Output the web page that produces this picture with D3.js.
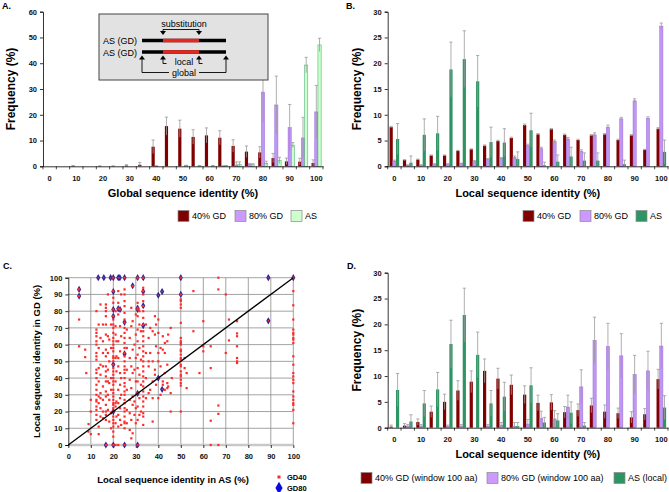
<!DOCTYPE html>
<html><head><meta charset="utf-8">
<script src="https://cdn.jsdelivr.net/npm/d3@7"></script>
<style>
body{margin:0;background:#fff}
svg{display:block}
text{font-family:Arial,"Liberation Sans",sans-serif}
</style></head>
<body>
<svg id="c" width="669" height="492"></svg>
<script>
// ---------- DATA ----------
const categories = ["0","5","10","15","20","25","30","35","40","45","50","55","60","65","70","75","80","85","90","95","100"];
const xTickLabels = ["0","10","20","30","40","50","60","70","80","90","100"];
const yTicksA = [0,10,20,30,40,50,60];
const yTicksBD = [0,5,10,15,20,25,30];
const cTicks = [0,10,20,30,40,50,60,70,80,90,100];

// Panel A (global identity)
const gd40A    = [0,0,0.2,0,0.1,0.1,0.3,0.6,7.6,15.6,14.6,11.4,12.0,11.1,7.9,5.7,5.4,3.2,1.9,1.8,1.3];
const gd40AErr = [0,0,0.1,0,0.1,0.1,0.3,0.9,2.6,3.5,3.3,2.8,2.9,2.7,2.4,2.2,2.2,1.8,1.3,1.3,1.2];
const gd80A    = [0,0,0,0,0,0,0,0,0.1,0,0,0,0,0.1,0.5,0.7,28.8,23.8,15.0,11.0,21.1];
const gd80AErr = [0,0,0,0,0,0,0,0,0.1,0,0,0,0,0.1,1.2,0.4,11.8,11.2,9.0,8.0,10.3];
const asA      = [0,0,0,0,0,0,0,0,0,0,0.3,0.2,0.2,0.2,0.8,0.6,1.2,2.3,8.2,39.3,47.1];
const asAErr   = [0,0,0,0,0,0,0,0,0,0,0.1,0.1,0.1,0.1,0.9,0.4,0.8,1.2,1.0,3.0,2.6];

// Panel B (local identity)
const gd40B    = [7.6,1.2,1.3,2.1,2.1,3.0,3.3,4.0,4.9,5.5,8.0,6.2,7.2,6.1,5.1,6.0,6.2,5.1,6.0,3.2,7.3];
const gd40BErr = [0.15,0.1,0.1,0.1,0.1,0.1,0.1,0.15,0.15,0.15,0.2,0.15,0.15,0.15,0.15,0.15,0.15,0.15,0.15,0.1,0.2];
const gd80B    = [1.0,0.2,0.2,0.4,0.4,0.5,0.9,1.3,1.5,1.7,4.0,3.4,4.8,5.3,2.9,6.1,7.6,9.2,12.7,9.3,27.2];
const gd80BErr = [0.2,0.1,0.1,0.1,0.1,0.1,0.2,0.2,0.2,0.3,0.3,0.3,0.3,0.3,0.3,0.4,0.4,0.3,0.4,0.3,0.6];
const asB      = [5.3,0.7,6.1,6.4,18.8,20.8,16.5,4.7,4.6,1.4,7.0,0.2,0.9,1.9,1.1,1.1,0,0.4,0,0,2.8];
const asBErr   = [3.0,1.3,3.1,3.3,5.3,5.5,5.0,2.9,2.7,1.4,3.3,0.6,1.3,1.8,1.5,1.5,0,0.8,0,0,2.3];

// Panel D (local identity, window 100 aa)
const gd40D    = [0.2,0.4,1.1,3.1,5.0,7.2,8.9,11.0,9.5,8.3,6.4,4.8,4.9,3.0,3.4,4.3,3.1,2.8,2.0,2.6,9.4];
const gd40DErr = [0.3,0.4,0.6,1.1,1.5,1.9,2.1,2.3,2.0,1.9,1.7,1.5,1.5,1.1,1.2,1.4,1.3,1.0,1.1,1.1,1.9];
const gd80D    = [0,0.3,0.3,0,0.2,0.3,0,0.3,0.5,0.3,0.7,1.8,1.7,4.0,7.9,16.9,15.7,13.9,10.3,11.0,15.8];
const gd80DErr = [0,0.3,0.3,0,0.3,0.3,0,0.3,0.5,0.7,0.9,1.4,1.6,2.3,3.3,4.5,4.5,4.3,3.7,3.8,4.4];
const asD      = [7.3,1.2,4.7,7.4,16.2,21.8,14.1,4.7,6.0,0.3,8.2,1.0,1.4,2.9,0.4,0,0,0,0,0,3.9];
const asDErr   = [3.2,1.3,2.5,3.3,4.6,5.2,4.4,2.5,2.8,0.7,3.4,1.0,1.3,2.1,0.6,0,0,0,0,0,2.3];

// Panel C scatter: GD40 points, grouped by AS identity (x) -> list of GD identities (y)
const gd40Columns = [
  [4.8,[75,59,93,89]],
  [7.5,[57,52.5]],
  [8,[43]],
  [9,[12.5,8]],
  [10,[27,20,6.5]],
  [12.5,[80,69,67,65,62,60,55,53,51,45,43,40,36,33,30,27,26,23,21,18,15]],
  [13.5,[72,58,46,38,29,25,11,6.5]],
  [14.3,[84,64,48,42,31,28,22,17]],
  [15.4,[72,62,55,47,35,27,20,16]],
  [16.7,[84,82,80,77,72,66,57,53,47,44,41,38,32,29,24,20,18,15,0]],
  [17.6,[90,65,55,45,38,30,21]],
  [18.2,[63,50,37,27,14]],
  [19,[72,58,40,33,19,10]],
  [20,[100,92,88,85,81,77,75,72,70,67,64,62,60,58,56,53,52,50,48,46,44,42,40,38,36,33,31,29,27,25,24,22,20,17,15,13,11,8,5,0]],
  [21,[80,71,66,52,38,25,23,13,0]],
  [21.4,[62,53,44,26,17]],
  [22.2,[92,85,81.5,78,62,52,47,33,25,18,11,0]],
  [23,[81,71,56,43,36,28,22,15]],
  [23.5,[90,65,40,30,12]],
  [25,[100,93,90,86,83,79,75,73,70,67,64,61,58,55,53,50,47,45,43,40,37,35,32,30,27,25,22,20,17,14,13,10,0]],
  [26,[69,58,45,33,21,13]],
  [27.3,[64,52,39,27,19,9]],
  [28,[82,71,47,34,15,4]],
  [28.6,[95,74,57,43,29,24,7]],
  [29.4,[60,45,26,18]],
  [30,[78,66,52,38,22,13]],
  [30.8,[100,85,82,81,77,69,62,54,46,38,31,23,15,0]],
  [31.6,[80,72,58,42,28,18]],
  [32.3,[68,51,36,20]],
  [33.3,[100,94,92,90,86,83,80,76,72,68,65,62,59,56,53,50,47,44,41,38,35,32,29,26,23,19,17,12]],
  [34.5,[72,55,40,28]],
  [35.7,[64,50,47,31]],
  [36.4,[70,55,33]],
  [37.5,[68,50,38,28,14]],
  [38.5,[77,66,45,42]],
  [39,[72,59,36]],
  [40,[75,67,55,50,40,28]],
  [41,[58,47,30]],
  [42,[65,57,38,36]],
  [42.9,[61,55,43,33]],
  [44,[62,48,37,34]],
  [44.4,[66,35]],
  [45.5,[70,31,20]],
  [46,[40]],
  [50,[100,90,87,86,84,82,73,64,62,61,60,57,56,54,52,51,48,47,44,42,41,39,37,35.5,20]],
  [51.7,[52,46]],
  [52.6,[43,34]],
  [55.6,[92,68]],
  [58.3,[43]],
  [60,[74,59,56]],
  [63.3,[59,46,14.5,0]],
  [66.7,[100,93,23.6,18.6,0]],
  [70,[90,55]],
  [71.4,[75,62.5]],
  [75,[74,66.7,65,59,52,50,49]],
  [100,[100,92,83.5,75,69,67,66,64,63,61,53,48,43,41,39,37,32,29,27,25,24,21,13]]
];
// Panel C scatter: GD80 points [AS identity, GD identity]
const gd80Points = [
  [4.8,93],[4.8,89],[13.3,100],[15.8,100],[18.8,100],[20,100],[22.2,100],[22.9,100],[25,100],
  [30.8,100],[33.3,100],[50,100],[88.9,100],[100,100],[28.6,95.2],[20,91.7],[33.3,91.7],
  [40,89.5],[41.7,91.7],[50,90],[20,81],[22.2,81.5],[23,81],[30.8,81.8],[30.8,81],[33.3,83.3],
  [20,76.9],[25,73.3],[33.3,71.4],[88.9,74.2],[25,54.5],[20,48.1],[40,40],[41.7,33.3],
  [30.8,30.8],[20,20],[16.7,0],[20,0],[25,0],[30.8,0]
];

// ---------- STYLE ----------
const C_RED = "#800000", C_PURPLE = "#c096f5", C_GREEN = "#2f9463", C_LGREEN = "#ccffcc";
const svg = d3.select("#c");

function barPanel(cfg){
  const g = svg.append("g");
  const x = d3.scaleBand().domain(categories).range([cfg.x0, cfg.x1]);
  const inner = d3.scaleBand().domain([0,1,2]).range([x.bandwidth()*0.14, x.bandwidth()*0.86]);
  const y = d3.scaleLinear().domain([0, cfg.ymax]).range([cfg.yb, cfg.yt]);

  cfg.series.forEach((s, si) => {
    const rows = categories.map((c, i) => ({c, v: s.vals[i], e: s.errs[i]}));
    g.append("g").selectAll("rect").data(rows.filter(d => d.v > 0)).join("rect")
      .attr("x", d => x(d.c) + inner(si))
      .attr("width", inner.bandwidth())
      .attr("y", d => y(d.v))
      .attr("height", d => y(0) - y(d.v))
      .attr("fill", s.fill)
      .attr("stroke", s.stroke || "none")
      .attr("stroke-width", 0.5);
    const eg = g.append("g").attr("stroke", "#9a9a9a").attr("stroke-width", 0.8);
    rows.filter(d => d.e > 0).forEach(d => {
      const cx = x(d.c) + inner(si) + inner.bandwidth()/2;
      eg.append("line").attr("x1", cx).attr("x2", cx)
        .attr("y1", y(Math.max(0, d.v - d.e))).attr("y2", y(d.v + d.e));
      eg.append("line").attr("x1", cx - 1.6).attr("x2", cx + 1.6)
        .attr("y1", y(d.v + d.e)).attr("y2", y(d.v + d.e));
    });
  });

  // y axis
  const ya = g.append("g").attr("transform", `translate(${cfg.x0},0)`)
    .call(d3.axisLeft(y).tickValues(cfg.yticks).tickSize(3).tickPadding(3));
  ya.selectAll("text").attr("font-size", 7.5).attr("font-weight", "bold").attr("fill", "#111");
  ya.selectAll("line,path").attr("stroke", "#000").attr("stroke-width", 0.8);

  // x axis (Excel style: ticks between categories)
  const xa = g.append("g").attr("transform", `translate(0,${cfg.yb})`)
    .call(d3.axisBottom(x).tickValues(xTickLabels).tickSize(0).tickPadding(9));
  xa.selectAll("path").attr("stroke", "#000").attr("stroke-width", 0.8);
  xa.selectAll("text").attr("font-size", 7.5).attr("font-weight", "bold").attr("fill", "#111");
  const bounds = categories.map(c => x(c)).concat([cfg.x1]);
  xa.selectAll("line.tk").data(bounds).join("line").attr("class","tk")
    .attr("x1", d => d).attr("x2", d => d).attr("y1", 0).attr("y2", 3)
    .attr("stroke", "#000").attr("stroke-width", 0.7);

  // titles
  svg.append("text").attr("x", cfg.panelX).attr("y", cfg.panelY).text(cfg.panel)
    .attr("font-size", 9).attr("font-weight", "bold");
  svg.append("text").attr("transform", `translate(${cfg.ytX},${(cfg.yb+cfg.yt)/2}) rotate(-90)`)
    .attr("text-anchor", "middle").attr("font-size", 12).attr("font-weight", "bold").text("Frequency (%)");
  svg.append("text").attr("x", (cfg.x0 + cfg.x1)/2).attr("y", cfg.xtY)
    .attr("text-anchor", "middle").attr("font-size", 11).attr("font-weight", "bold").text(cfg.xtitle);

  // legend
  cfg.legend.forEach(l => {
    svg.append("rect").attr("x", l.x).attr("y", cfg.legY - 5.5).attr("width", 11).attr("height", 11)
      .attr("fill", l.fill).attr("stroke", "#8a8a8a").attr("stroke-width", 0.7);
    svg.append("text").attr("x", l.x + 14).attr("y", cfg.legY + 3.3).attr("font-size", 9).text(l.label);
  });
  return {x, y};
}

// Panel A
barPanel({
  x0: 43, x1: 323, yb: 166.3, yt: 11.7, ymax: 60, yticks: yTicksA,
  series: [
    {vals: gd40A, errs: gd40AErr, fill: C_RED},
    {vals: gd80A, errs: gd80AErr, fill: C_PURPLE, stroke: "#9a6ad8"},
    {vals: asA, errs: asAErr, fill: C_LGREEN, stroke: "#3aa56a"}
  ],
  panel: "A.", panelX: 2, panelY: 9, ytX: 15, xtY: 197, xtitle: "Global sequence identity (%)",
  legY: 216, legend: [
    {x: 178, fill: C_RED, label: "40% GD"},
    {x: 235, fill: "#cc99ff", label: "80% GD"},
    {x: 291, fill: C_LGREEN, label: "AS"}
  ]
});

// Panel B
barPanel({
  x0: 387.7, x1: 668, yb: 166.3, yt: 11.7, ymax: 30, yticks: yTicksBD,
  series: [
    {vals: gd40B, errs: gd40BErr, fill: C_RED},
    {vals: gd80B, errs: gd80BErr, fill: C_PURPLE, stroke: "#9a6ad8"},
    {vals: asB, errs: asBErr, fill: C_GREEN}
  ],
  panel: "B.", panelX: 346, panelY: 9, ytX: 361, xtY: 197, xtitle: "Local sequence identity (%)",
  legY: 216, legend: [
    {x: 523, fill: C_RED, label: "40% GD"},
    {x: 580, fill: "#cc99ff", label: "80% GD"},
    {x: 636, fill: C_GREEN, label: "AS"}
  ]
});

// Panel D
barPanel({
  x0: 387.7, x1: 668, yb: 427.7, yt: 272.7, ymax: 30, yticks: yTicksBD,
  series: [
    {vals: gd40D, errs: gd40DErr, fill: C_RED},
    {vals: gd80D, errs: gd80DErr, fill: C_PURPLE, stroke: "#9a6ad8"},
    {vals: asD, errs: asDErr, fill: C_GREEN}
  ],
  panel: "D.", panelX: 347, panelY: 269, ytX: 361, xtY: 458, xtitle: "Local sequence identity (%)",
  legY: 478, legend: [
    {x: 361, fill: C_RED, label: "40% GD (window 100 aa)"},
    {x: 487, fill: "#cc99ff", label: "80% GD (window 100 aa)"},
    {x: 614, fill: C_GREEN, label: "AS (local)"}
  ]
});

// Inset diagram in panel A
(function(){
  const g = svg.append("g");
  g.append("rect").attr("x", 99).attr("y", 14).attr("width", 169).attr("height", 66)
    .attr("fill", "#e2e2e2").attr("stroke", "#444").attr("stroke-width", 1);
  g.append("text").attr("x", 184).attr("y", 27).attr("text-anchor", "middle").attr("font-size", 9).text("substitution");
  g.append("path").attr("d", "M163,33 V29.5 H199 V33").attr("fill", "none").attr("stroke", "#000").attr("stroke-width", 0.9);
  const tri = (cx, tipY, dir) => `M${cx-3},${tipY - dir*4} L${cx+3},${tipY - dir*4} L${cx},${tipY} Z`;
  [163,199].forEach(cx => g.append("path").attr("d", tri(cx, 35, 1)).attr("fill", "#000"));
  [40.5, 52].forEach(yy => {
    g.append("line").attr("x1", 142).attr("x2", 226).attr("y1", yy).attr("y2", yy).attr("stroke", "#000").attr("stroke-width", 3.5);
    g.append("line").attr("x1", 163).attr("x2", 199).attr("y1", yy).attr("y2", yy).attr("stroke", "#e8261e").attr("stroke-width", 3.5);
  });
  g.append("text").attr("x", 137).attr("y", 44).attr("text-anchor", "end").attr("font-size", 9).text("AS (GD)");
  g.append("text").attr("x", 137).attr("y", 55.5).attr("text-anchor", "end").attr("font-size", 9).text("AS (GD)");
  [142,163,199,226].forEach(cx => g.append("path").attr("d", tri(cx, 55.5, -1)).attr("fill", "#000"));
  g.append("path").attr("d", "M163,59 V63.5 H166.5 M199,59 V63.5 H202.5").attr("fill", "none").attr("stroke", "#000").attr("stroke-width", 0.9);
  g.append("text").attr("x", 184).attr("y", 64.5).attr("text-anchor", "middle").attr("font-size", 9).text("local");
  g.append("path").attr("d", "M142,59 V72.5 H169 M199,72.5 H226 V59").attr("fill", "none").attr("stroke", "#000").attr("stroke-width", 0.9);
  g.append("text").attr("x", 184).attr("y", 75.5).attr("text-anchor", "middle").attr("font-size", 9).text("global");
})();

// Panel C scatter
(function(){
  const x = d3.scaleLinear().domain([0,100]).range([68.3, 293.3]);
  const y = d3.scaleLinear().domain([0,100]).range([445, 277.7]);
  const g = svg.append("g");
  // grid
  g.append("g").selectAll("line").data(cTicks.slice(1)).join("line")
    .attr("x1", d => x(d)).attr("x2", d => x(d)).attr("y1", y(0)).attr("y2", y(100))
    .attr("stroke", "#8c8c8c").attr("stroke-width", 0.8);
  g.append("g").selectAll("line").data(cTicks.slice(1)).join("line")
    .attr("x1", x(0)).attr("x2", x(100)).attr("y1", d => y(d)).attr("y2", d => y(d))
    .attr("stroke", "#8c8c8c").attr("stroke-width", 0.8);
  g.append("line").attr("x1", x(0)).attr("x2", x(100)).attr("y1", y(0)).attr("y2", y(0))
    .attr("stroke", "#c8c8c8").attr("stroke-width", 2.5);
  // axes
  const ya = g.append("g").attr("transform", `translate(${x(0)},0)`)
    .call(d3.axisLeft(y).tickValues(cTicks).tickSize(3).tickPadding(3));
  ya.selectAll("text").attr("font-size", 7.5).attr("font-weight", "bold").attr("fill", "#111");
  ya.selectAll("line,path").attr("stroke", "#000").attr("stroke-width", 0.8);
  const xa = g.append("g").attr("transform", `translate(0,${y(0)})`)
    .call(d3.axisBottom(x).tickValues(cTicks).tickSize(3).tickPadding(6));
  xa.select("path").remove();
  xa.selectAll("text").attr("font-size", 7.5).attr("font-weight", "bold").attr("fill", "#111");
  xa.selectAll("line").attr("stroke", "#000").attr("stroke-width", 0.8);

  // GD80 diamonds
  const diamond = d3.symbol().type(d3.symbolDiamond).size(15);
  g.append("g").selectAll("path").data(gd80Points).join("path")
    .attr("d", diamond).attr("transform", d => `translate(${x(d[0])},${y(d[1])})`)
    .attr("fill", "#2a2494");
  // GD40 points
  const pts = gd40Columns.flatMap(([cx, ys]) => ys.map(v => [cx, v]));
  g.append("g").selectAll("rect").data(pts).join("rect")
    .attr("x", d => x(d[0]) - 1.1).attr("y", d => y(d[1]) - 1.1)
    .attr("width", 2.2).attr("height", 2.2).attr("fill", "#ff2a2a");
  g.append("g").selectAll("circle").data(gd80Points).join("circle")
    .attr("cx", d => x(d[0])).attr("cy", d => y(d[1])).attr("r", 0.8).attr("fill", "#ff3030");
  // diagonal
  g.append("line").attr("x1", x(0)).attr("y1", y(0)).attr("x2", x(100)).attr("y2", y(100))
    .attr("stroke", "#000").attr("stroke-width", 1.3);

  svg.append("text").attr("x", 3).attr("y", 269).attr("font-size", 9).attr("font-weight", "bold").text("C.");
  svg.append("text").attr("transform", `translate(40,${(y(0)+y(100))/2}) rotate(-90)`)
    .attr("text-anchor", "middle").attr("font-size", 9.5).attr("font-weight", "bold").text("Local sequence identity in GD (%)");
  svg.append("text").attr("x", 173).attr("y", 483).attr("text-anchor", "middle")
    .attr("font-size", 9.5).attr("font-weight", "bold").text("Local sequence identity in AS (%)");
  // legend
  svg.append("rect").attr("x", 277.5).attr("y", 475.5).attr("width", 3).attr("height", 3).attr("fill", "#ff2a2a");
  svg.append("text").attr("x", 287).attr("y", 480).attr("font-size", 7.5).attr("font-weight", "bold").text("GD40");
  svg.append("path").attr("d", d3.symbol().type(d3.symbolDiamond).size(45)).attr("transform", "translate(279,488)").attr("fill", "#0a0ae0");
  svg.append("text").attr("x", 287).attr("y", 491).attr("font-size", 7.5).attr("font-weight", "bold").text("GD80");
})();
</script>
</body></html>
